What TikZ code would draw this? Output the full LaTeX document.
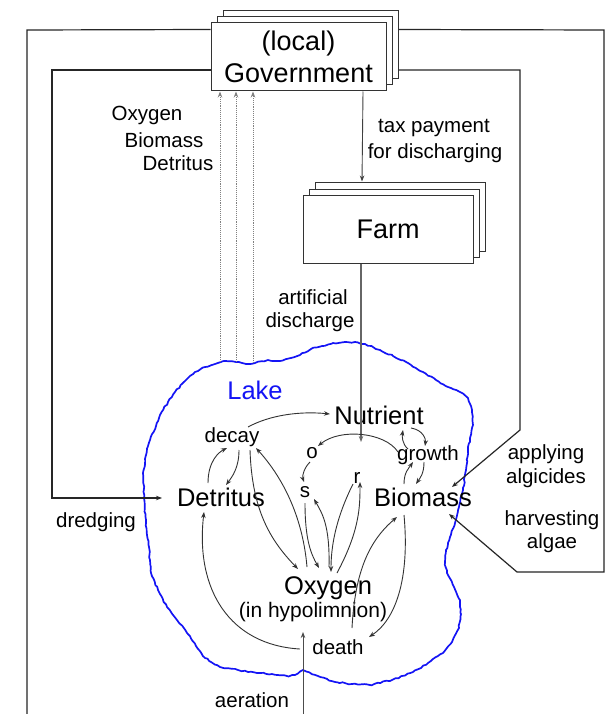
\documentclass[tikz,border=0pt]{standalone}
\usepackage{fontspec}
\setmainfont{Liberation Sans}
\usetikzlibrary{arrows.meta,calc,shadows,decorations.pathmorphing}
\begin{document}
\begin{tikzpicture}[x=1pt,y=-1pt,
  box/.style={draw=black!80, line width=1pt, fill=white, minimum width=#1, minimum height=68pt, inner sep=0pt, align=center,
    general shadow={fill=white, draw=black!80, line width=1pt, shadow xshift=12pt, shadow yshift=12pt},
    general shadow={fill=white, draw=black!80, line width=1pt, shadow xshift=6pt, shadow yshift=6pt},
    font=\fontsize{27}{32}\selectfont},
  lbl/.style={inner sep=0pt, align=center, font=\fontsize{20.5}{25}\selectfont},
  big/.style={inner sep=0pt, font=\fontsize{25.5}{30}\selectfont},
  arr/.style={-{Stealth[length=6pt,width=4.5pt]}},
  loop/.style={draw=black!85, line width=1.2pt},
  flow/.style={draw=black!80, line width=0.9pt},
  info/.style={draw=black!50, line width=0.9pt, densely dotted},
  lakeline/.style={draw={rgb,255:red,20;green,20;blue,245}, line width=1.7pt, line join=round,
    decoration={random steps, segment length=3pt, amplitude=0.7pt}, decorate}
]
\useasboundingbox (0,0) rectangle (605,714);
\fill[white] (0,0) rectangle (605,714);

% lake outline
\draw[lakeline] (150,440) -- (156,426) -- (160,415) -- (168,402) -- (175,392) -- (186,380) -- (195,372) -- (205,367)
 -- (215,364) -- (226,361) -- (236,362) -- (246,364) -- (255,363) -- (268,360) -- (280,361) -- (291,358) -- (300,355)
 -- (311,349) -- (322,346) -- (333,343) -- (345,342) -- (355,342) -- (365,344) -- (380,350) -- (393,356) -- (408,363)
 -- (423,372) -- (436,380) -- (448,387) -- (460,392) -- (468,398) -- (472,410) -- (473,425) -- (470,438) -- (468,450)
 -- (466,470) -- (463,490) -- (459,507) -- (455,523) -- (450,537) -- (446,550) -- (445,562) -- (447,573) -- (454,587)
 -- (460,600) -- (461,614) -- (459,628) -- (452,642) -- (443,653) -- (428,663) -- (413,672) -- (392,680) -- (370,685)
 -- (352,684) -- (335,682) -- (318,676) -- (303,670) -- (295,675) -- (287,676) -- (272,674) -- (257,673) -- (238,670)
 -- (220,667) -- (205,658) -- (196,646) -- (187,633) -- (177,620) -- (167,607) -- (158,590) -- (151,573) -- (150,560)
 -- (149,547) -- (147,535) -- (146,523) -- (144,498) -- (143,473) -- (146,455) -- cycle;
\coordinate (lk1) at (220,362);
\coordinate (lk2) at (236,362);
\coordinate (lk3) at (253,363);

% boxes
\node[box=175pt] (gov) at (298.5,57) {(local)\\Government};
\node[box=170pt] (farm) at (388,229) {Farm};

% labels
\node[lbl] (lo) at (147,115) {Oxygen};
\node[lbl] (lb) at (164,140) {Biomass};
\node[lbl] (ld) at (178,163) {Detritus};
\node[lbl] (tax) at (434,128) {tax payment};
\node[lbl] (disch) at (435,153) {for discharging};
\node[lbl] (art1) at (313,297) {artificial};
\node[lbl] (art2) at (310,322) {discharge};
\node[big, text={rgb,255:red,20;green,20;blue,245}] (lake) at (255,390) {Lake};
\node[big] (nut) at (379,415) {Nutrient};
\node[lbl] (decay) at (232,437) {decay};
\node[lbl] (growth) at (428,455) {growth};
\node[lbl] (o) at (312,453) {o};
\node[lbl] (s) at (305,492) {s};
\node[lbl] (r) at (357,478) {r};
\node[big] (det) at (221,497) {Detritus};
\node[big] (bio) at (423,497) {Biomass};
\node[big] (oxy) at (328,588) {Oxygen};
\node[lbl, font=\fontsize{21}{25}\selectfont] (hypo) at (313,612) {(in hypolimnion)};
\node[lbl] (death) at (338,647) {death};
\node[lbl] (aer) at (252,700) {aeration};
\node[lbl] (dredge) at (96,522) {dredging};
\node[lbl] (alg1) at (546,454) {applying};
\node[lbl] (alg2) at (546,478) {algicides};
\node[lbl] (harv1) at (552,520) {harvesting};
\node[lbl] (harv2) at (552,543) {algae};

% free ends
\coordinate (botL) at (27,714);
\coordinate (botA) at (303,714);
\coordinate (rightE) at (604,572);

% outer loops
\draw[loop] ($(gov.north west)+(0,7)$) -- (27,30) -- (botL);
\draw[loop, arr] ($(gov.north east)+(12,7)$) -- (604,30) -- (rightE) -- (517,572) -- ($(bio)+(26,17)$);
\draw[loop, arr] ($(gov.west)+(0,13)$) -- (52,70) -- (52,498) -- ($(det)+(-59,1)$);
\draw[loop, arr] ($(gov.east)+(12,13)$) -- (520,70) -- (520,430) -- ($(bio)+(29,-10)$);
\draw[flow, arr, draw=black!70] (botA) -- ($(hypo)+(-10,20)$);

% information lines
\draw[info, arr] (lk1) -- (lk1 |- gov.south);
\draw[info, arr] (lk2) -- (lk2 |- gov.south);
\draw[info, arr] (lk3) -- (lk3 |- gov.south);

% money and discharge
\draw[flow, arr, draw=black!75] ($(gov.south)+(64.5,0)$) -- ($(farm.north)+(-26,-13)$);
\draw[flow, arr, draw=black!60, line width=1.1pt] ($(farm.south)+(-27,0)$) -- ($(nut)+(-18,27)$);

% lake internal flows
\draw[flow, arr] ($(decay)+(16,-10)$) .. controls +(22,-12) and +(-30,-3) .. ($(nut)+(-49,-1)$);
\draw[flow, arr] ($(growth)+(-30,-3)$) .. controls +(-13,-20) and +(22,-18) .. ($(o)+(6,-7)$);
\draw[flow, arr] ($(o)+(-2,9)$) .. controls +(-6,6) and +(-2,-6) .. ($(s)+(-1,-10)$);
\draw[flow, arr] ($(growth)+(-20,-6)$) .. controls +(-6,-5) and +(-1,6) .. ($(nut)+(24,15)$);
\draw[flow, arr] ($(nut)+(32,13)$) .. controls +(12,2) and +(1,-7) .. ($(growth)+(-3,-9)$);
\draw[flow, arr] ($(bio)+(-19,-13)$) .. controls +(0,-12) and +(-4,6) .. ($(growth)+(-15,7)$);
\draw[flow, arr] ($(growth)+(-4,7)$) .. controls +(0,12) and +(4,-6) .. ($(bio)+(-7,-13)$);
\draw[flow, arr] ($(det)+(-13,-14)$) .. controls +(0,-22) and +(-8,4) .. ($(decay)+(-5,11)$);
\draw[flow, arr] ($(decay)+(7,13)$) .. controls +(0,18) and +(6,-8) .. ($(det)+(5,-12)$);
\draw[flow, arr] ($(decay)+(18,13)$) .. controls +(2,60) and +(-28,-29) .. ($(oxy)+(-30,-19)$);
\draw[flow, arr] ($(oxy)+(-21,-21)$) .. controls +(-4,-47) and +(29,32) .. ($(decay)+(24,11)$);
\draw[flow, arr] ($(s)+(0,11)$) .. controls +(0,37) and +(-8,-14) .. ($(oxy)+(-9,-20)$);
\draw[flow, arr] ($(oxy)+(1,-21)$) .. controls +(1,-42) and +(8,14) .. ($(s)+(9,7)$);
\draw[flow, arr] ($(r)+(-4,6)$) .. controls +(-18,36) and +(0,-24) .. ($(oxy)+(3,-16)$);
\draw[flow, arr] ($(oxy)+(9,-15)$) .. controls +(23,-43) and +(0,24) .. ($(r)+(3,4)$);
\draw[flow, arr] ($(death)+(14,-19)$) .. controls +(3,-58) and +(-27,23) .. ($(bio)+(-26,20)$);
\draw[flow, arr] ($(bio)+(-19,18)$) .. controls +(6,65) and +(26,-17) .. ($(death)+(31,-10)$);
\draw[flow, arr] ($(death)+(-38,2)$) .. controls +(-70,-4) and +(-9,78) .. ($(det)+(-17,15)$);
\end{tikzpicture}
\end{document}
